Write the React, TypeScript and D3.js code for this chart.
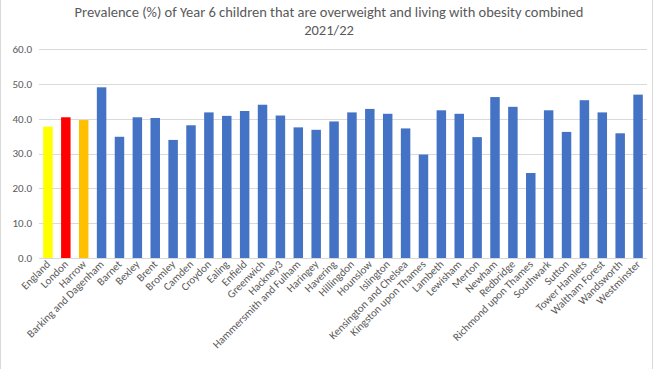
import React from "react";
import * as d3 from "d3";

const areas = [
  "England", "London", "Harrow", "Barking and Dagenham", "Barnet", "Bexley", "Brent",
  "Bromley", "Camden", "Croydon", "Ealing", "Enfield", "Greenwich", "Hackney3",
  "Hammersmith and Fulham", "Haringey", "Havering", "Hillingdon", "Hounslow", "Islington",
  "Kensington and Chelsea", "Kingston upon Thames", "Lambeth", "Lewisham", "Merton",
  "Newham", "Redbridge", "Richmond upon Thames", "Southwark", "Sutton", "Tower Hamlets",
  "Waltham Forest", "Wandsworth", "Westminster",
];

const prevalence = [
  37.7, 40.4, 39.6, 49.0, 34.8, 40.4, 40.2, 33.9, 38.1, 41.8, 40.8, 42.2, 44.0, 40.9,
  37.5, 36.8, 39.2, 41.8, 42.8, 41.4, 37.2, 29.7, 42.4, 41.4, 34.7, 46.2, 43.4, 24.4,
  42.4, 36.2, 45.3, 41.8, 35.8, 46.9,
];

const yTicks = [0, 10, 20, 30, 40, 50, 60];

// England, London and Harrow are highlighted, the boroughs share one colour
const highlight: Record<string, string> = {
  England: "#FFFF00",
  London: "#FF0000",
  Harrow: "#FFC000",
};

const W = 660;
const H = 369;
const font = "Carlito, Lato, 'Liberation Sans', sans-serif";
const textColor = "#595959";

const App = () => {
  const x = d3.scaleBand<string>()
    .domain(areas)
    .range([39, 647])
    .paddingInner(0.47)
    .paddingOuter(0.235);

  const y = d3.scaleLinear().domain([0, 60]).range([258, 49]);

  return (
    <div style={{ position: "absolute", left: 0, top: 0 }}>
      <svg width={W} height={H} style={{ display: "block", background: "#fff" }}>
        <line x1={0.5} x2={0.5} y1={0} y2={H} stroke="#d9d9d9" />
        <line x1={652.5} x2={652.5} y1={0} y2={H} stroke="#d9d9d9" />

        <text x={329} y={17} textAnchor="middle" fontFamily={font} fontSize={14.5} fill={textColor}>
          Prevalence (%) of Year 6 children that are overweight and living with obesity combined
        </text>
        <text x={329} y={35} textAnchor="middle" fontFamily={font} fontSize={14.5} fill={textColor}>
          2021/22
        </text>

        {yTicks.map((t) => (
          <g key={t}>
            <line x1={39} x2={647} y1={Math.round(y(t)) + 0.5} y2={Math.round(y(t)) + 0.5} stroke="#d9d9d9" />
            <text x={32} y={y(t)} dy="0.35em" textAnchor="end" fontFamily={font} fontSize={11} fill={textColor}>
              {t.toFixed(1)}
            </text>
          </g>
        ))}

        {areas.map((a, i) => (
          <rect
            key={a}
            x={x(a)}
            y={y(prevalence[i])}
            width={x.bandwidth()}
            height={y(0) - y(prevalence[i])}
            fill={highlight[a] || "#4472C4"}
          />
        ))}

        {areas.map((a) => {
          const cx = (x(a) as number) + x.bandwidth() / 2 + 3;
          return (
            <text
              key={a}
              transform={`translate(${cx},265) rotate(-45)`}
              textAnchor="end"
              fontFamily={font}
              fontSize={11}
              fill={textColor}
            >
              {a}
            </text>
          );
        })}
      </svg>
    </div>
  );
};

export default App;
